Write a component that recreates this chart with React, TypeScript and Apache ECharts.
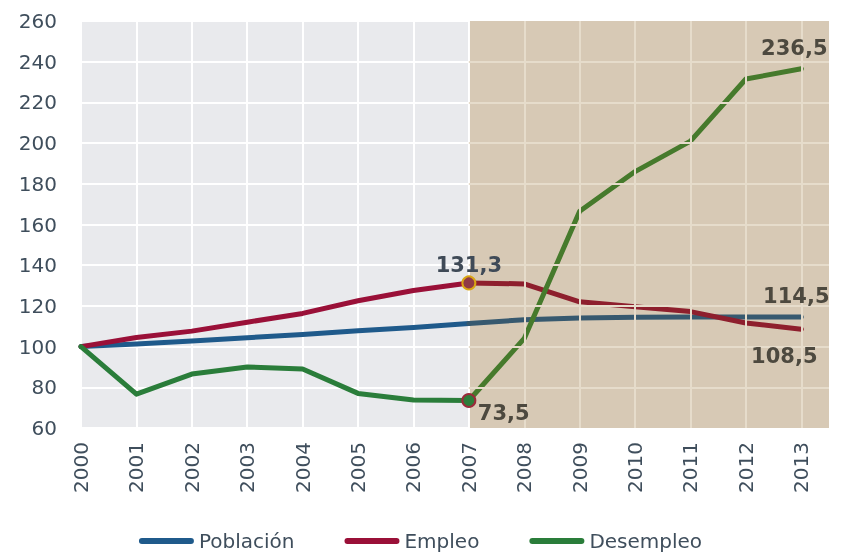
import React, { useEffect, useRef } from "react";
import * as echarts from "echarts";

const years = [2000, 2001, 2002, 2003, 2004, 2005, 2006, 2007, 2008, 2009, 2010, 2011, 2012, 2013];
const poblacion = [100, 101.3, 102.8, 104.4, 106.0, 107.8, 109.4, 111.4, 113.2, 114.1, 114.4, 114.5, 114.6, 114.5];
const empleo = [100, 104.5, 107.6, 112.0, 116.3, 122.5, 127.6, 131.3, 130.8, 122.0, 119.6, 117.2, 111.6, 108.5];
const desempleo = [100, 76.6, 86.5, 90.0, 89.0, 77.0, 73.8, 73.5, 104.0, 166.5, 186.0, 201.0, 231.5, 236.5];
const seriesNames = ["Población", "Empleo", "Desempleo"];
const crisisStart = 2007;
const xMin = 2000;
const xMax = 2013.5;
const yMin = 60;
const yMax = 260;
const yStep = 20;

const colorsBefore = ["#1f5a8b", "#9a1038", "#2a7d3a"];
const colorsAfter = ["#37596f", "#8e1f2d", "#467a2c"];
const labelColor = "#3f4e5c";
const annColor = "#4d493f";
const FONT = "DejaVu Sans";

const fmt = (v: number) => v.toFixed(1).replace(".", ",");

export default function App() {
  const ref = useRef<HTMLDivElement>(null);
  useEffect(() => {
    if (!ref.current) return;
    const chart = echarts.init(ref.current, undefined, { renderer: "svg" });
    const all = [poblacion, empleo, desempleo];
    const iCrisis = years.indexOf(crisisStart);
    const iLast = years.length - 1;

    const lineSeries: any[] = [];
    all.forEach((vals, i) => {
      const pts = years.map((y, k) => [y, vals[k]]);
      lineSeries.push({
        name: seriesNames[i],
        type: "line",
        data: pts.slice(0, iCrisis + 1),
        showSymbol: false,
        symbol: "none",
        lineStyle: { width: 5, color: colorsBefore[i], cap: "round", join: "round" },
        itemStyle: { color: colorsBefore[i] },
        z: 3,
        silent: true,
      });
      lineSeries.push({
        name: seriesNames[i],
        type: "line",
        data: pts.slice(iCrisis),
        showSymbol: false,
        symbol: "none",
        lineStyle: { width: 5, color: colorsAfter[i], cap: "round", join: "round" },
        itemStyle: { color: colorsAfter[i] },
        z: 3,
        silent: true,
      });
    });

    const tanGrid: any[] = [];
    years.filter((y) => y > crisisStart).forEach((y) => {
      tanGrid.push([{ coord: [y, yMin] }, { coord: [y, yMax] }]);
    });
    for (let v = yMin + yStep; v < yMax; v += yStep) {
      tanGrid.push([{ coord: [crisisStart, v] }, { coord: [xMax, v] }]);
    }

    const bgSeries = {
      name: "bg",
      type: "line",
      data: years.map((y, k) => [y, poblacion[k]]),
      showSymbol: false,
      symbol: "none",
      lineStyle: { opacity: 0, width: 0 },
      z: 1,
      silent: true,
      markArea: {
        silent: true,
        itemStyle: { color: "#d7c9b5" },
        data: [[{ coord: [crisisStart + 0.02, yMin] }, { coord: [xMax, yMax] }]],
      },
      markLine: {
        silent: true,
        symbol: ["none", "none"],
        label: { show: false },
        lineStyle: { color: "#e6dccb", width: 2, type: "solid" },
        data: tanGrid,
      },
    };

    const lbl = (x: number, v: number, color: string, position: any, distance: number, offset: number[]) => ({
      value: [x, v],
      symbolSize: 0,
      label: {
        show: true,
        formatter: fmt(v),
        position,
        distance,
        offset,
        color,
        fontFamily: FONT,
        fontWeight: "bold",
        fontSize: 21,
      },
    });

    const annSeries = {
      name: "ann",
      type: "scatter",
      z: 5,
      silent: true,
      itemStyle: { opacity: 1 },
      data: [
        {
          value: [years[iCrisis], empleo[iCrisis]],
          symbol: "circle",
          symbolSize: 13,
          itemStyle: { color: "#903a46", borderColor: "#d9a514", borderWidth: 2, opacity: 1 },
        },
        {
          value: [years[iCrisis], desempleo[iCrisis]],
          symbol: "circle",
          symbolSize: 13,
          itemStyle: { color: "#2d7d3a", borderColor: "#9b2a3a", borderWidth: 2, opacity: 1 },
        },
        lbl(years[iCrisis], empleo[iCrisis], "#3f4a57", "top", 7, [0, 0]),
        lbl(years[iCrisis], desempleo[iCrisis], annColor, "right", 9, [0, 12]),
        lbl(years[iLast], desempleo[iLast], annColor, "top", 10, [-7, 0]),
        lbl(years[iLast], poblacion[iLast], annColor, "top", 11, [-5, 0]),
        lbl(years[iLast], empleo[iLast], annColor, "bottom", 16, [-17, 0]),
      ],
    };

    chart.setOption({
      animation: false,
      grid: {
        left: 81,
        right: 12,
        top: 21,
        bottom: 128,
        show: true,
        backgroundColor: "#e9eaed",
        borderWidth: 0,
      },
      xAxis: {
        type: "value",
        min: xMin,
        max: xMax,
        interval: 1,
        axisLine: { show: false },
        axisTick: { show: false },
        splitLine: { show: true, lineStyle: { color: "#ffffff", width: 2 } },
        axisLabel: {
          rotate: 90,
          margin: 14,
          fontSize: 20,
          fontFamily: FONT,
          color: labelColor,
          showMaxLabel: false,
          formatter: (v: number) => (Number.isInteger(v) ? String(v) : ""),
        },
      },
      yAxis: {
        type: "value",
        min: yMin,
        max: yMax,
        interval: yStep,
        axisLine: { show: false },
        axisTick: { show: false },
        splitLine: { show: true, lineStyle: { color: "#ffffff", width: 2 } },
        axisLabel: { fontSize: 20, fontFamily: FONT, color: labelColor, margin: 24 },
      },
      legend: {
        data: seriesNames.map((n, i) => ({ name: n, itemStyle: { color: colorsBefore[i] } })),
        left: "center",
        top: 526,
        itemWidth: 55,
        itemHeight: 6,
        itemGap: 50,
        icon: "path://M3,0 L52,0 A3,3 0 0 1 52,6 L3,6 A3,3 0 0 1 3,0 Z",
        textStyle: { fontSize: 20, fontFamily: FONT, color: labelColor },
        selectedMode: false,
      },
      series: [...lineSeries, bgSeries, annSeries],
    });
    return () => chart.dispose();
  }, []);
  return <div ref={ref} style={{ position: "fixed", left: 0, top: 0, width: 841, height: 556 }} />;
}
